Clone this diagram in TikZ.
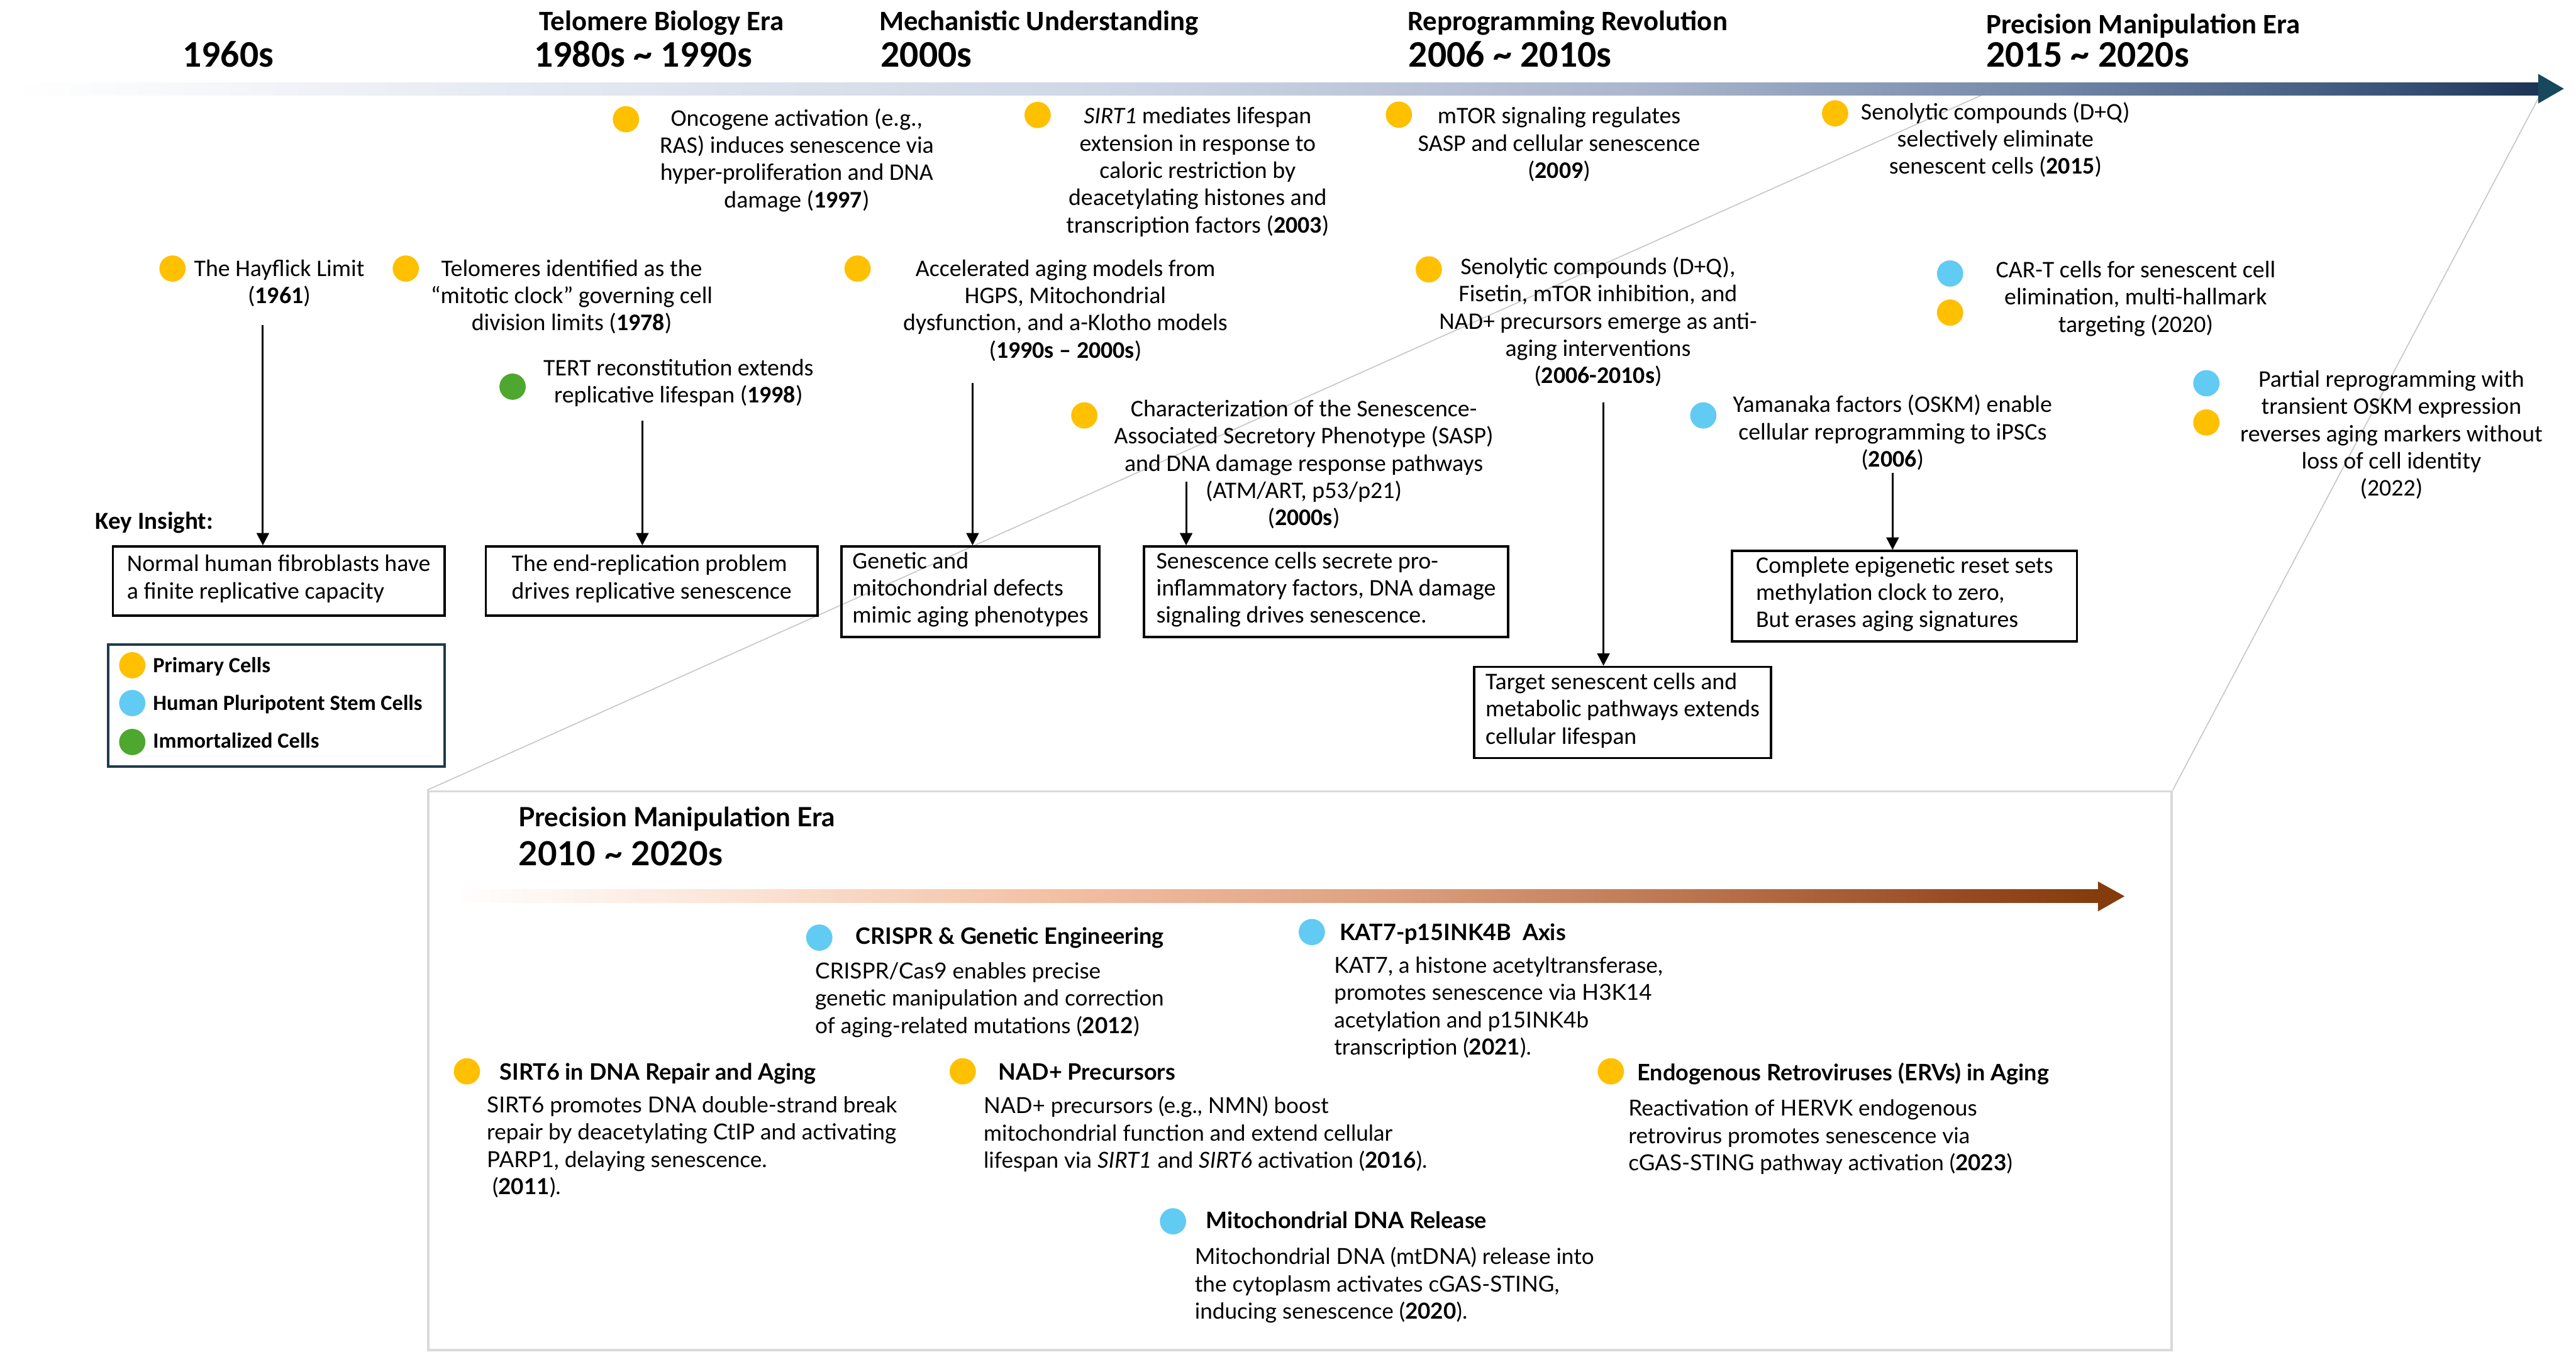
\documentclass[tikz,border=0pt]{standalone}
\usepackage{fontspec}
\setmainfont{Carlito}
\newfontfamily\latofont{Lato}
\usetikzlibrary{arrows.meta,shapes}

\definecolor{primaryc}{HTML}{FFC000}
\definecolor{stemc}{HTML}{61CBF3}
\definecolor{immortc}{HTML}{4EA72E}
\definecolor{legendedge}{HTML}{1F3A4D}
\definecolor{navyhead}{HTML}{17485C}
\definecolor{brownhead}{HTML}{843C0C}
\definecolor{panelgray}{HTML}{D9D9D9}
% top timeline colours
\definecolor{tbA}{HTML}{E6EAF2}
\definecolor{tbB}{HTML}{CDD5E4}
\definecolor{tbC}{HTML}{AAB6CC}
\definecolor{tbD}{HTML}{7186A6}
\definecolor{tbE}{HTML}{3A5479}
\definecolor{tbF}{HTML}{1C3355}
% panel timeline colours
\definecolor{obA}{HTML}{FBE4D6}
\definecolor{obB}{HTML}{F3BFA2}
\definecolor{obC}{HTML}{DDA07F}
\definecolor{obD}{HTML}{B7704A}
\definecolor{obE}{HTML}{964A22}

\pgfdeclarehorizontalshading{topbar}{100bp}{color(0bp)=(white); color(25bp)=(white);
  color(34.5bp)=(tbA); color(47.5bp)=(tbB); color(57.3bp)=(tbC); color(65.5bp)=(tbD);
  color(72bp)=(tbE); color(75bp)=(tbF); color(100bp)=(tbF)}
\pgfdeclarehorizontalshading{panelbar}{100bp}{color(0bp)=(white); color(25bp)=(white);
  color(33.5bp)=(obA); color(43.5bp)=(obB); color(53.5bp)=(obC); color(63.5bp)=(obD);
  color(71bp)=(obE); color(75bp)=(brownhead); color(100bp)=(brownhead)}

\newcommand{\evfont}{\fontsize{16.5}{18.9}\selectfont}
\newcommand{\pbodyfont}{\latofont\fontsize{15.3}{18.9}\selectfont}

\begin{document}
\begin{tikzpicture}[x=0.4mm, y=-0.4mm,
    celldot/.style={circle, inner sep=0pt, minimum size=6.4mm},
    event/.style={align=center, anchor=north, inner sep=0pt, font=\evfont, execute at begin node=\strut},
    insight/.style={draw, line width=0.55mm, align=left, anchor=north west, inner sep=0pt, font=\evfont,
      execute at begin node=\strut, execute at end node=\strut},
    era/.style={anchor=base west, inner sep=0pt, font=\bfseries\fontsize{19.5}{22}\selectfont},
    decade/.style={anchor=base west, inner sep=0pt, font=\bfseries\fontsize{26}{30}\selectfont},
    link/.style={line width=0.45mm, -{Triangle[length=3mm, width=3mm]}},
    zoomline/.style={draw=gray!45, line width=0.25mm},
    ptitle/.style={anchor=base west, inner sep=0pt, font=\latofont\bfseries\fontsize{15.7}{18}\selectfont},
    pbody/.style={anchor=north west, align=left, inner sep=0pt, font=\pbodyfont, execute at begin node=\strut}]
    \useasboundingbox (0,0) rectangle (1568,826);

    % Zoom lines from the main axis down to the panel
    \node[draw=panelgray, fill=white, line width=0.6mm, anchor=north west, inner sep=0pt,
          minimum width=424.4mm, minimum height=136mm] (panel) at (260,481) {};
    \coordinate (zoomL) at (1215,54);
    \coordinate (zoomR) at (1546,58);
    \draw[zoomline] (zoomL) -- (panel.north west);
    \draw[zoomline] (zoomR) -- (panel.north east);

    % Main timeline arrow
    \shade[shading=topbar] (7.5,50.3) rectangle (1545,58);
    \fill[navyhead] (1545,45) -- (1560.6,54) -- (1545,63) -- cycle;

    % Era headings
    \node[decade] (dec1) at (111,40.7) {1960s};
    \node[era] (era2) at (328,18.4) {Telomere Biology Era};
    \node[decade] (dec2) at (325,40.7) {1980s \textasciitilde{} 1990s};
    \node[era] (era3) at (535,18.4) {Mechanistic Understanding};
    \node[decade] (dec3) at (536,40.7) {2000s};
    \node[era] (era4) at (856.6,18.4) {Reprogramming Revolution};
    \node[decade] (dec4) at (857.3,40.7) {2006 \textasciitilde{} 2010s};
    \node[era] (era5) at (1208.9,20.4) {Precision Manipulation Era};
    \node[decade] (dec5) at (1208.9,40.7) {2015 \textasciitilde{} 2020s};

    % Events above the insights
    \node[celldot, fill=primaryc] (hay-dot) at (105,163.5) {};
    \node[event] (hay) at (170,157.9) {The Hayflick Limit\\(\textbf{1961})};
    \node[celldot, fill=primaryc] (telo-dot) at (247,163.5) {};
    \node[event] (telo) at (348,157.9) {Telomeres identified as the\\“mitotic clock” governing cell\\division limits (\textbf{1978})};
    \node[celldot, fill=immortc] (tert-dot) at (312,235.4) {};
    \node[event] (tert) at (413,218.3) {TERT reconstitution extends\\replicative lifespan (\textbf{1998})};
    \node[celldot, fill=primaryc] (onco-dot) at (381,72.6) {};
    \node[event] (onco) at (485,65.8) {Oncogene activation (e.g.,\\RAS) induces senescence via\\hyper-proliferation and DNA\\damage (\textbf{1997})};
    \node[celldot, fill=primaryc] (sirt1-dot) at (631.6,70) {};
    \node[event] (sirt1) at (729,65.1) {\textit{SIRT1} mediates lifespan\\extension in response to\\caloric restriction by\\deacetylating histones and\\transcription factors (\textbf{2003})};
    \node[celldot, fill=primaryc] (accel-dot) at (522,163.5) {};
    \node[event] (accel) at (648.5,157.9) {Accelerated aging models from\\HGPS, Mitochondrial\\dysfunction, and a-Klotho models\\(\textbf{1990s – 2000s})};
    \node[celldot, fill=primaryc] (sasp-dot) at (660,252.9) {};
    \node[event] (sasp) at (793.6,243.3) {Characterization of the Senescence-\\Associated Secretory Phenotype (SASP)\\and DNA damage response pathways\\(ATM/ART, p53/p21)\\(\textbf{2000s})};
    \node[celldot, fill=primaryc] (mtor-dot) at (851.5,69.8) {};
    \node[event] (mtor) at (949,65.1) {mTOR signaling regulates\\SASP and cellular senescence\\(\textbf{2009})};
    \node[celldot, fill=primaryc] (senoA-dot) at (869.7,164) {};
    \node[event] (senoA) at (972.7,156.3) {Senolytic compounds (D+Q),\\Fisetin, mTOR inhibition, and\\NAD+ precursors emerge as anti-\\aging interventions\\(\textbf{2006-2010s})};
    \node[celldot, fill=stemc] (yama-dot) at (1036.8,252.9) {};
    \node[event] (yama) at (1152,240.3) {Yamanaka factors (OSKM) enable\\cellular reprogramming to iPSCs\\(\textbf{2006})};
    \node[celldot, fill=primaryc] (senoB-dot) at (1117,69) {};
    \node[event] (senoB) at (1214.6,62) {Senolytic compounds (D+Q)\\selectively eliminate\\senescent cells (\textbf{2015})};
    \node[celldot, fill=stemc] (cart-dot1) at (1187,166.5) {};
    \node[celldot, fill=primaryc] (cart-dot2) at (1187,190.3) {};
    \node[event] (cart) at (1300,158.7) {CAR-T cells for senescent cell\\elimination, multi-hallmark\\targeting (2020)};
    \node[celldot, fill=stemc] (part-dot1) at (1343,233.3) {};
    \node[celldot, fill=primaryc] (part-dot2) at (1343,257.2) {};
    \node[event] (part) at (1455.6,225.3) {Partial reprogramming with\\transient OSKM expression\\reverses aging markers without\\loss of cell identity\\(2022)};

    % Key insights
    \node[anchor=base west, inner sep=0pt, font=\bfseries\fontsize{17}{20}\selectfont] (key) at (58,322) {Key Insight:};
    \node[insight, minimum width=80.8mm, minimum height=16.8mm] (box1) at (68,332) {Normal human fibroblasts have\\a finite replicative capacity};
    \node[insight, minimum width=80.8mm, minimum height=16.8mm] (box2) at (295,332) {The end-replication problem\\drives replicative senescence};
    \node[insight, minimum width=62.8mm, minimum height=22mm] (box3) at (511.5,332) {Genetic and\\mitochondrial defects\\mimic aging phenotypes};
    \node[insight, minimum width=88.7mm, minimum height=22mm] (box4) at (695.6,332) {Senescence cells secrete pro-\\inflammatory factors, DNA damage\\signaling drives senescence.};
    \node[insight, minimum width=72.3mm, minimum height=22.2mm] (box5) at (896.6,405.3) {Target senescent cells and\\metabolic pathways extends\\cellular lifespan};
    \node[insight, minimum width=84mm, minimum height=22mm] (box6) at (1053.6,334.7) {Complete epigenetic reset sets\\methylation clock to zero,\\But erases aging signatures};

    % Arrows from events to insights
    \coordinate (hay-stem) at (160,198);
    \coordinate (tert-stem) at (391,256);
    \coordinate (accel-stem) at (592,233);
    \coordinate (sasp-stem) at (722,293.3);
    \coordinate (senoA-stem) at (976,245);
    \coordinate (yama-stem) at (1152,288);
    \draw[link] (hay-stem) -- (hay-stem |- box1.north);
    \draw[link] (tert-stem) -- (tert-stem |- box2.north);
    \draw[link] (accel-stem) -- (accel-stem |- box3.north);
    \draw[link] (sasp-stem) -- (sasp-stem |- box4.north);
    \draw[link] (senoA-stem) -- (senoA-stem |- box5.north);
    \draw[link] (yama-stem) -- (yama-stem |- box6.north);

    % Legend
    \node[draw=legendedge, line width=0.6mm, anchor=north west, inner sep=0pt,
          minimum width=82mm, minimum height=29.7mm] (legend) at (65,391.5) {};
    \node[celldot, fill=primaryc] (leg-dot1) at (80.5,405) {};
    \node[celldot, fill=stemc] (leg-dot2) at (80.5,428) {};
    \node[celldot, fill=immortc] (leg-dot3) at (80.5,451.7) {};
    \node[anchor=base west, inner sep=0pt, font=\bfseries\fontsize{15}{18}\selectfont] (leg1) at (93,409.5) {Primary Cells};
    \node[anchor=base west, inner sep=0pt, font=\bfseries\fontsize{15}{18}\selectfont] (leg2) at (93,432.5) {Human Pluripotent Stem Cells};
    \node[anchor=base west, inner sep=0pt, font=\bfseries\fontsize{15}{18}\selectfont] (leg3) at (93,455.5) {Immortalized Cells};

    % Panel: precision manipulation era
    \node[anchor=base west, inner sep=0pt, font=\latofont\bfseries\fontsize{18.4}{21}\selectfont] (p-era) at (315.6,503.3) {Precision Manipulation Era};
    \node[anchor=base west, inner sep=0pt, font=\latofont\bfseries\fontsize{23}{27}\selectfont] (p-dec) at (315.6,526.8) {2010 \textasciitilde{} 2020s};
    \shade[shading=panelbar] (276.8,541.6) rectangle (1277,549.6);
    \fill[brownhead] (1277,536.6) -- (1293.2,545.6) -- (1277,554.8) -- cycle;

    \node[celldot, fill=stemc] (crispr-dot) at (498.7,570.8) {};
    \node[ptitle] (crispr-t) at (520.6,574.7) {CRISPR \& Genetic Engineering};
    \node[pbody] (crispr) at (496,585.8) {CRISPR/Cas9 enables precise\\genetic manipulation and correction\\of aging-related mutations (\textbf{2012})};

    \node[celldot, fill=primaryc] (sirt6-dot) at (284.2,652.2) {};
    \node[ptitle] (sirt6-t) at (304,657.5) {SIRT6 in DNA Repair and Aging};
    \node[pbody] (sirt6) at (296.2,667.3) {SIRT6 promotes DNA double-strand break\\repair by deacetylating CtIP and activating\\PARP1, delaying senescence.\\\ (\textbf{2011}).};

    \node[celldot, fill=primaryc] (nad-dot) at (586,652.2) {};
    \node[ptitle] (nad-t) at (607.7,657.5) {NAD+ Precursors};
    \node[pbody] (nad) at (598.6,667.3) {NAD+ precursors (e.g., NMN) boost\\mitochondrial function and extend cellular\\lifespan via \textit{SIRT1} and \textit{SIRT6} activation (\textbf{2016}).};

    \node[celldot, fill=stemc] (kat7-dot) at (798.5,567.4) {};
    \node[ptitle] (kat7-t) at (815.3,572.4) {KAT7-p15INK4B\ \ Axis};
    \node[pbody] (kat7) at (811.9,582.3) {KAT7, a histone acetyltransferase,\\promotes senescence via H3K14\\acetylation and p15INK4b\\transcription (\textbf{2021}).};

    \node[celldot, fill=primaryc] (erv-dot) at (980.5,652.2) {};
    \node[ptitle] (erv-t) at (996.5,658) {Endogenous Retroviruses (ERVs) in Aging};
    \node[pbody] (erv) at (991.1,669.3) {Reactivation of HERVK endogenous\\retrovirus promotes senescence via\\cGAS-STING pathway activation (\textbf{2023})};

    \node[celldot, fill=stemc] (mito-dot) at (714,743.5) {};
    \node[ptitle] (mito-t) at (733.9,748) {Mitochondrial DNA Release};
    \node[pbody] (mito) at (727.1,759.1) {Mitochondrial DNA (mtDNA) release into\\the cytoplasm activates cGAS-STING,\\inducing senescence (\textbf{2020}).};
\end{tikzpicture}
\end{document}
